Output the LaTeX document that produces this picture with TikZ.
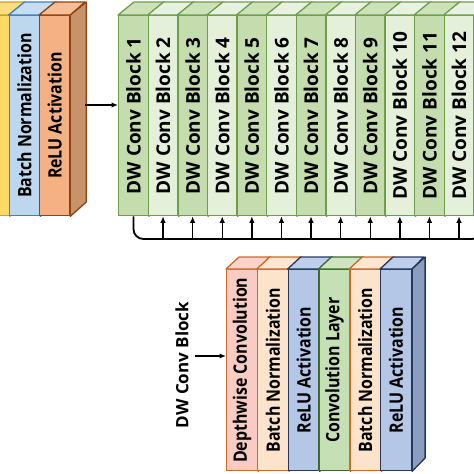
\documentclass[tikz,border=0pt]{standalone}
\usepackage{fontspec}
\setmainfont{Open Sans}
\usetikzlibrary{arrows.meta}
\definecolor{yelF}{HTML}{FFD966}
\definecolor{yelB}{HTML}{C9A227}
\definecolor{bnF}{HTML}{BDD7EE}
\definecolor{bnB}{HTML}{3F7FBF}
\definecolor{rlF}{HTML}{F4B183}
\definecolor{rlB}{HTML}{8B4513}
\definecolor{rlS}{HTML}{C8926A}
\definecolor{gnD}{HTML}{C5DDAE}
\definecolor{gnL}{HTML}{E4F0DA}
\definecolor{gnB}{HTML}{6E9E4A}
\definecolor{dwF}{HTML}{F8CBC4}
\definecolor{orB}{HTML}{CC6A26}
\definecolor{peF}{HTML}{FCE3CC}
\definecolor{blF}{HTML}{B4C7E7}
\definecolor{blB}{HTML}{26375E}
\definecolor{blS}{HTML}{8C9EC0}
\definecolor{cvF}{HTML}{C5E0B4}
\definecolor{cvB}{HTML}{3F6B2A}
\tikzset{
  face/.style={draw, line width=1.3pt, inner sep=0pt, anchor=north west, font=\bfseries},
  arr/.style={line width=1.3pt, -{Latex[length=6.5pt,width=5.5pt]}},
  fb/.style={line width=1.8pt, rounded corners=10pt},
}
\newcommand\otxt[1]{\fontsize{18.5}{20}\selectfont\scalebox{0.86}[1]{#1}}
\newcommand\gtxt[1]{\fontsize{19}{20}\selectfont #1}
\newcommand\cdx{16}
\newcommand\cdy{-13}
\newcommand\mycube[9]{%
  \node[face, minimum width=#4pt, minimum height=#5pt, fill=#6, draw=#7] (#1) at (#2,#3) {\rotatebox{90}{#9}};
  \draw[line width=1.3pt, draw=#7, fill=#6!85!white, line join=round] (#1.north west) -- ++(\cdx,\cdy) -- ++(#4,0) -- (#1.north east) -- cycle;
  \draw[line width=1.3pt, draw=#7, fill=#8, line join=round] (#1.north east) -- ++(\cdx,\cdy) -- ++(0,#5) -- (#1.south east) -- cycle;
}
\begin{document}
\begin{tikzpicture}[x=1pt,y=-1pt]
\useasboundingbox (0,0) rectangle (474,474);
\clip (0,0) rectangle (474,474);
% top section
\mycube{yel}{-40}{15}{48.5}{200}{yelF}{yelB}{yelF!80!black}{}
\mycube{bn}{8.5}{15}{30.5}{200}{bnF}{bnB}{bnF!80!black}{\otxt{Batch Normalization}}
\mycube{rl}{39}{15}{30}{200}{rlF}{rlB}{rlS}{\otxt{ReLU Activation}}
\foreach \i in {1,...,12}{
  \pgfmathsetmacro\xx{118+29.6*(\i-1)}
  \ifodd\i
    \mycube{g\i}{\xx}{15}{29.6}{200}{gnD}{gnB}{gnD!80!black}{\gtxt{DW Conv Block \i}}
  \else
    \mycube{g\i}{\xx}{15}{29.6}{200}{gnL}{gnB}{gnL!80!black}{\gtxt{DW Conv Block \i}}
  \fi
}
\coordinate (a0) at (85,105);
\draw[arr] (a0) -- (g1.west |- a0);
% feedback
\coordinate (fbc) at (482,239);
\coordinate (fbtop) at (482,150);
\draw[fb] (g1.south) |- (fbc) -- (fbtop);
\foreach \i in {2,...,12}{
  \draw[arr] (g\i.south |- fbc) -- (g\i.south);
}
% bottom section
\renewcommand\cdx{13}
\renewcommand\cdy{-12}
\mycube{b1}{226}{269}{30.8}{201}{dwF}{orB}{dwF!80!black}{\otxt{Depthwise Convolution}}
\mycube{b2}{256.8}{269}{30.8}{201}{peF}{orB}{peF!80!black}{\otxt{Batch Normalization}}
\mycube{b3}{287.6}{269}{30.8}{201}{blF}{blB}{blS}{\otxt{ReLU Activation}}
\mycube{b4}{318.4}{269}{30.8}{201}{cvF}{cvB}{cvF!80!black}{\otxt{Convolution Layer}}
\mycube{b5}{349.2}{269}{30.8}{201}{peF}{orB}{peF!80!black}{\otxt{Batch Normalization}}
\mycube{b6}{380}{269}{30.8}{201}{blF}{blB}{blS}{\otxt{ReLU Activation}}
\node[rotate=90, font=\fontsize{17}{19}\selectfont\bfseries] (lbl) at (182,365) {DW Conv Block};
\coordinate (la) at (195,356);
\draw[arr] (la) -- (b1.west |- la);
\end{tikzpicture}
\end{document}
